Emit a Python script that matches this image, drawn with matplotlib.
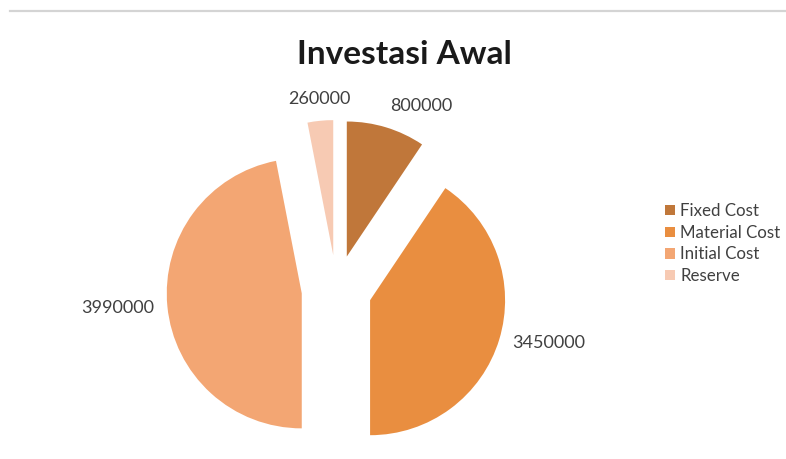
import matplotlib.pyplot as plt
from matplotlib.lines import Line2D

labels = ['Fixed Cost', 'Material Cost', 'Initial Cost', 'Reserve']
values = [800000, 3450000, 3990000, 260000]
colors = ['#C0773A', '#E98E40', '#F3A673', '#F7CAB3']

plt.rcParams['font.family'] = ['Lato', 'DejaVu Sans']

W, H = 786, 459
fig = plt.figure(figsize=(W / 100, H / 100), dpi=100)
ax = fig.add_axes([0, 0, 1, 1])

# pixel-like data units so the pie sits where it does in the picture
radius = 135
gap = 35
wedges, texts = ax.pie(values, labels=[str(v) for v in values], colors=colors,
                       startangle=90, counterclock=False, radius=radius,
                       center=(336.6, H - 290), explode=[gap] * len(values),
                       labeldistance=1.1,
                       textprops={'fontsize': 13, 'color': '#404040'})
# pie picks alignment from absolute x, fix it by side of the pie
texts[0].set_va('bottom')
texts[2].set_ha('right')
texts[3].set_ha('center')
texts[3].set_va('bottom')

ax.set_xlim(0, W)
ax.set_ylim(0, H)
ax.set_aspect('equal')
ax.axis('off')

fig.text(404 / W, 1 - 55 / H, 'Investasi Awal', ha='center', va='center',
         fontsize=24, fontweight='bold', color='#1a1a1a')

# thin grey rule at the top of the screenshot
fig.add_artist(Line2D([10 / W, 1], [1 - 11 / H, 1 - 11 / H], color='#d4d4d4',
                      linewidth=1.6, transform=fig.transFigure))

fig.legend(wedges, labels, loc='upper left', bbox_to_anchor=(650 / W, 1 - 188 / H),
           frameon=False, fontsize=12.2, handlelength=0.55, handleheight=0.55,
           handletextpad=0.35, labelspacing=0.33, labelcolor='#404040')

fig.savefig('out.png', dpi=100)
